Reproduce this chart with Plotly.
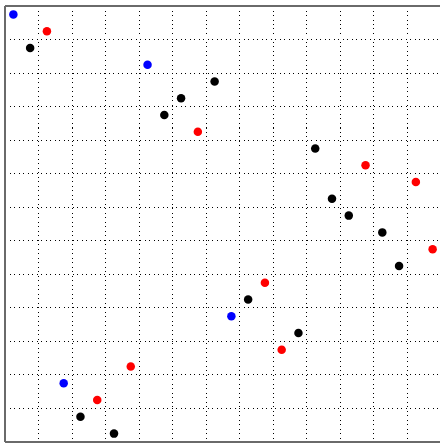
import plotly.graph_objects as go

# Point centres (column, row); rows counted from the top
blue_x = [0.5, 8.5, 13.5, 3.5]
blue_y = [0.5, 3.5, 18.5, 22.5]

red_x = [2.5, 11.5, 21.5, 24.5, 25.5, 15.5, 16.5, 7.5, 5.5]
red_y = [1.5, 7.5, 9.5, 10.5, 14.5, 16.5, 20.5, 21.5, 23.5]

black_x = [1.5, 12.5, 10.5, 9.5, 18.5, 19.5, 20.5, 22.5, 23.5, 14.5, 17.5, 4.5, 6.5]
black_y = [2.5, 4.5, 5.5, 6.5, 8.5, 11.5, 12.5, 13.5, 15.5, 17.5, 19.5, 24.5, 25.5]

fig = go.Figure()
for xs, ys, col in [(black_x, black_y, "#000000"),
                    (red_x, red_y, "#ff0000"),
                    (blue_x, blue_y, "#0000ff")]:
    fig.add_trace(go.Scatter(x=xs, y=ys, mode="markers",
                             marker=dict(color=col, size=8.5, line=dict(width=0)),
                             showlegend=False, hoverinfo="skip"))

W, H = 440, 444
ml, mr, mt, mb = 5, 0, 6, 2
unit = (H - mt - mb) / 26.0

fig.update_layout(
    width=W, height=H,
    margin=dict(l=ml, r=mr, t=mt, b=mb, pad=0),
    paper_bgcolor="white", plot_bgcolor="white",
    showlegend=False,
)
fig.update_xaxes(range=[0, (W - ml - mr) / unit], tick0=0, dtick=2,
                 showticklabels=False, ticks="", zeroline=False,
                 showgrid=True, gridcolor="#000000", gridwidth=1, griddash="1px,3.5px",
                 showline=False)
fig.update_yaxes(range=[26, 0], tick0=0, dtick=2,
                 showticklabels=False, ticks="", zeroline=False,
                 showgrid=True, gridcolor="#000000", gridwidth=1, griddash="1px,3.5px",
                 showline=False)

# frame on left, top and bottom only (no right edge, as in the reference)
frame = dict(color="#6a6a6a", width=2)
fig.add_shape(type="line", xref="paper", yref="paper", x0=0, x1=1, y0=1, y1=1,
              line=frame, layer="above")
fig.add_shape(type="line", xref="paper", yref="paper", x0=0, x1=1, y0=0, y1=0,
              line=frame, layer="above")
fig.add_shape(type="line", xref="paper", yref="paper", x0=0, x1=0, y0=0, y1=1,
              line=frame, layer="above")

fig.write_html("out.html",
               config={"displayModeBar": False},
               post_script="document.body.style.margin='0px';document.body.style.overflow='hidden';")
